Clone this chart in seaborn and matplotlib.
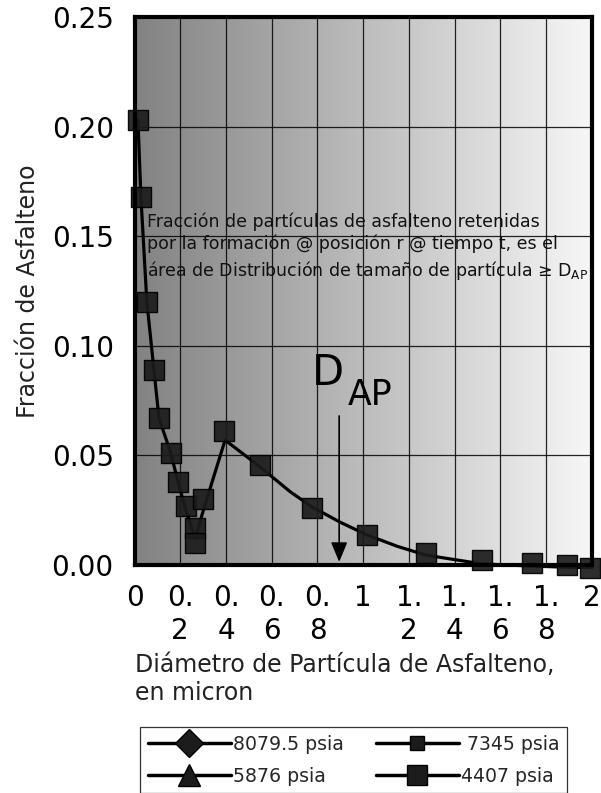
import numpy as np
import matplotlib
matplotlib.use("Agg")
import matplotlib.pyplot as plt
from matplotlib.colors import LinearSegmentedColormap
from matplotlib.lines import Line2D
import pandas as pd
import seaborn as sns

# Measured particle-size distribution (4407 psia)
diam_pts = [0.015, 0.028, 0.054, 0.085, 0.107, 0.159, 0.190, 0.225, 0.265, 0.265,
            0.300, 0.390, 0.550, 0.776, 1.017, 1.275, 1.520, 1.740, 1.890, 1.990]
frac_pts = [0.203, 0.168, 0.120, 0.089, 0.067, 0.051, 0.038, 0.027, 0.017, 0.010,
            0.030, 0.061, 0.0455, 0.026, 0.0137, 0.0055, 0.0023, 0.0009, 0.0000, -0.0014]

# Trend curve through the distribution
curve_x = [0.015, 0.028, 0.054, 0.085, 0.107, 0.159, 0.190, 0.225, 0.265, 0.300,
           0.396, 0.550, 0.680, 0.776, 0.900, 1.017, 1.150, 1.275, 1.520, 1.740, 1.890, 2.000]
curve_y = [0.203, 0.168, 0.120, 0.089, 0.067, 0.051, 0.038, 0.025, 0.012, 0.0246,
           0.057, 0.0447, 0.0335, 0.0265, 0.0195, 0.0137, 0.0085, 0.0045, 0.0005, -0.0005, -0.0010, -0.0012]

x_ticks = [0, 0.2, 0.4, 0.6, 0.8, 1.0, 1.2, 1.4, 1.6, 1.8, 2.0]
x_tick_labels = ["0", "0.\n2", "0.\n4", "0.\n6", "0.\n8", "1", "1.\n2", "1.\n4", "1.\n6", "1.\n8", "2"]
y_ticks = [0.00, 0.05, 0.10, 0.15, 0.20, 0.25]
y_tick_labels = ["0.00", "0.05", "0.10", "0.15", "0.20", "0.25"]

legend_labels = ["8079.5 psia", "5876 psia", " 7345 psia", "4407 psia"]
legend_markers = ["D", "^", "s", "s"]
legend_msizes = [14, 16, 10, 15]

d_ap = 0.895  # position of the D_AP cut-off

sns.set_style("white")
plt.rcParams["font.family"] = ["DejaVu Sans"]
plt.rcParams["mathtext.fontset"] = "dejavusans"

fig = plt.figure(figsize=(6.01, 7.93), dpi=100)
ax = fig.add_axes([0.2238, 0.2875, 0.761, 0.691])

# Horizontal grey gradient in the plotting area
cmap = LinearSegmentedColormap.from_list("bg", ["#828282", "#f7f7f7"])
ax.imshow(np.linspace(0, 1, 256)[None, :], cmap=cmap, aspect="auto",
          extent=(0, 2, 0, 0.25), zorder=0, interpolation="bilinear")

curve_df = pd.DataFrame({"x": curve_x, "y": curve_y})
pts_df = pd.DataFrame({"x": diam_pts, "y": frac_pts})

sns.lineplot(data=curve_df, x="x", y="y", sort=False, estimator=None, ax=ax,
             color="black", linewidth=2.3, zorder=3, clip_on=False)
sns.scatterplot(data=pts_df, x="x", y="y", ax=ax, marker="s", s=200,
                color="#1c1c1c", edgecolor="black", linewidth=1.0, alpha=0.92,
                zorder=4, clip_on=False)

ax.set_xlim(0, 2)
ax.set_ylim(0, 0.25)
ax.set_xticks(x_ticks)
ax.set_xticklabels(x_tick_labels)
ax.set_yticks(y_ticks)
ax.set_yticklabels(y_tick_labels)
ax.tick_params(axis="both", length=0, labelsize=20, colors="black")
ax.tick_params(axis="x", pad=14)
ax.tick_params(axis="y", pad=15)

ax.set_axisbelow(True)
ax.grid(True, color="black", linewidth=0.9, alpha=0.85)
for sp in ax.spines.values():
    sp.set_visible(True)
    sp.set_color("black")
    sp.set_linewidth(3.0)
    sp.set_zorder(5)

ax.set_ylabel("Fracción de Asfalteno", fontsize=17, color="#222222", labelpad=8)
ax.set_xlabel("Diámetro de Partícula de Asfalteno,\nen micron", fontsize=17,
              color="#222222", loc="left", multialignment="left", labelpad=6)

ax.text(0.055, 0.161,
        "Fracción de partículas de asfalteno retenidas\n"
        "por la formación @ posición r @ tiempo t, es el\n"
        "área de Distribución de tamaño de partícula ≥ D$_{\\mathregular{AP}}$",
        fontsize=12.5, color="#111111", ha="left", va="top", linespacing=1.3, zorder=6)

# Large D_AP label above the cut-off arrow
ax.text(0.777, 0.082, "D", fontsize=30, color="black",
        ha="left", va="baseline", zorder=6)
ax.text(0.932, 0.0729, "AP", fontsize=25, color="black",
        ha="left", va="baseline", zorder=6)
ax.annotate("", xy=(d_ap, 0.0014), xytext=(d_ap, 0.068),
            arrowprops=dict(arrowstyle="-|>,head_length=0.6,head_width=0.25",
                            color="black", lw=1.2, mutation_scale=20,
                            shrinkA=0, shrinkB=0), zorder=6)

handles = [Line2D([0], [0], color="black", lw=2.5, marker=m, markersize=ms,
                  markerfacecolor="#1c1c1c", markeredgecolor="black")
           for m, ms in zip(legend_markers, legend_msizes)]
leg = fig.legend(handles, legend_labels, loc="upper left", bbox_to_anchor=(0.233, 0.0832),
                 ncol=2, frameon=True, fancybox=False, edgecolor="black", fontsize=13.6,
                 handlelength=4.4, handletextpad=0.1, columnspacing=1.7,
                 borderpad=0.4, labelspacing=0.7, borderaxespad=0)
leg.get_frame().set_linewidth(0.9)

fig.savefig("out.png", dpi=100)
